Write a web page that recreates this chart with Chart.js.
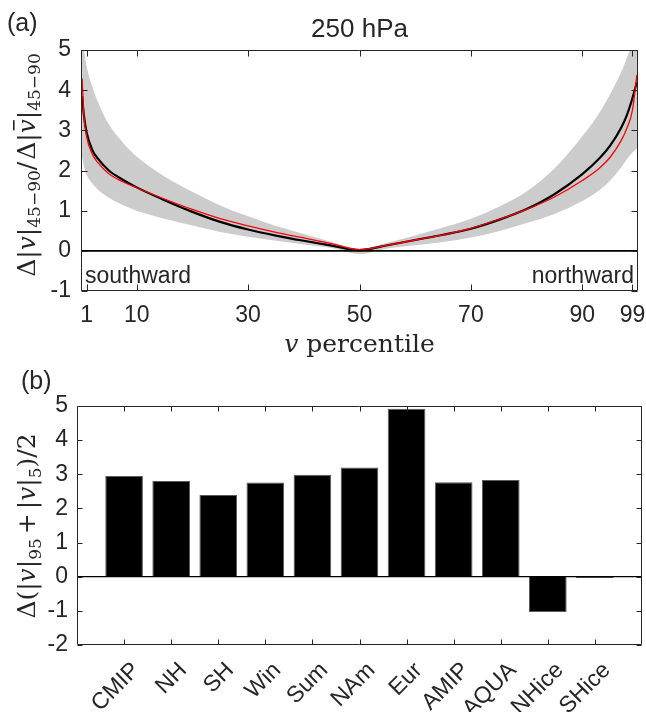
<!DOCTYPE html>
<html><head><meta charset="utf-8">
<script src="https://cdn.jsdelivr.net/npm/chart.js@4.4.1/dist/chart.umd.min.js"></script>
<style>
html,body{margin:0;padding:0;background:#fff;}
#wrap{position:relative;width:646px;height:712px;overflow:hidden;background:#fff;}
#c1{position:absolute;left:0;top:0;}
#c2{position:absolute;left:0;top:360px;}
</style></head><body>
<div id="wrap">
<canvas id="c1" width="646" height="360"></canvas>
<canvas id="c2" width="646" height="352"></canvas>
</div>
<script>
// ---------- data: panel (a) ----------
const percentiles = [0.2,0.5,1,2,3,5,7.5,10,15,20,25,30,35,40,45,50,55,60,65,70,75,80,85,90,93,95,97,98,99,99.8];
const blackLine   = [3.85,3.40,2.95,2.52,2.30,2.00,1.77,1.58,1.26,0.97,0.72,0.53,0.38,0.25,0.13,0.02,0.14,0.27,0.40,0.55,0.77,1.04,1.41,1.91,2.29,2.62,3.07,3.38,3.80,4.20];
const redLine     = [4.29,3.40,2.85,2.42,2.20,1.92,1.72,1.57,1.29,1.03,0.80,0.62,0.46,0.32,0.18,0.03,0.14,0.27,0.40,0.56,0.78,1.03,1.34,1.75,2.05,2.33,2.75,3.05,3.50,4.38];
const bandUpper   = [5.50,5.05,4.60,4.10,3.72,3.15,2.70,2.35,1.85,1.47,1.13,0.86,0.62,0.42,0.22,0.05,0.20,0.38,0.58,0.80,1.10,1.48,2.05,2.85,3.42,3.90,4.45,4.80,5.20,5.60];
const bandLower   = [2.35,2.12,1.90,1.68,1.53,1.32,1.14,1.00,0.80,0.63,0.47,0.35,0.25,0.16,0.07,-0.08,0.06,0.14,0.22,0.33,0.49,0.69,0.92,1.24,1.50,1.75,2.08,2.28,2.45,2.55];
const xTickValues = [1,10,30,50,70,90,99];
const yTickValuesA = [-1,0,1,2,3,4,5];

// ---------- data: panel (b) ----------
const categories = ['CMIP','NH','SH','Win','Sum','NAm','Eur','AMIP','AQUA','NHice','SHice'];
const barValues  = [2.95,2.80,2.39,2.76,2.99,3.20,4.92,2.77,2.83,-1.03,-0.04];
const yTickValuesB = [-2,-1,0,1,2,3,4,5];

const SANS = "'Liberation Sans', Arial, Helvetica, sans-serif";
const SERIF = "'DejaVu Serif', 'Liberation Serif', serif";
const TXT = '#262626';

function drawRich(ctx, segs, x, y, rot) {
  ctx.save();
  ctx.translate(x, y);
  ctx.rotate(rot);
  ctx.textAlign = 'left';
  ctx.textBaseline = 'alphabetic';
  ctx.fillStyle = TXT;
  let total = 0;
  segs.forEach(s => { ctx.font = s.f; s.w = ctx.measureText(s.t).width + (s.sp || 0) + (s.pre || 0); total += s.w; });
  let cx = -total / 2;
  segs.forEach(s => {
    ctx.font = s.f;
    ctx.fillText(s.t, cx + (s.pre || 0), s.dy || 0);
    if (s.bar) {
      ctx.fillRect(cx + 3, -s.bar, s.w - 4, 1.6);
    }
    cx += s.w;
  });
  ctx.restore();
}

function drawFrame(ctx, a, xTicks, yTicks, xs, ys, tl) {
  ctx.save();
  ctx.strokeStyle = '#262626';
  ctx.lineWidth = 1;
  const L = Math.round(a.left) + 0.5, R = Math.round(a.right) - 0.5;
  const T = Math.round(a.top) + 0.5, B = Math.round(a.bottom) - 0.5;
  ctx.beginPath();
  ctx.rect(L, T, R - L, B - T);
  xTicks.forEach(v => {
    const px = Math.round(xs.getPixelForValue(v)) + 0.5;
    ctx.moveTo(px, B); ctx.lineTo(px, B - tl);
    ctx.moveTo(px, T); ctx.lineTo(px, T + tl);
  });
  yTicks.forEach(v => {
    const py = Math.round(ys.getPixelForValue(v)) + 0.5;
    ctx.moveTo(L, py); ctx.lineTo(L + tl, py);
    ctx.moveTo(R, py); ctx.lineTo(R - tl, py);
  });
  ctx.stroke();
  ctx.restore();
}

function zeroLine(ctx, a, ys, w) {
  ctx.save();
  ctx.strokeStyle = '#000';
  ctx.lineWidth = w;
  const py = ys.getPixelForValue(0);
  ctx.beginPath(); ctx.moveTo(a.left, py); ctx.lineTo(a.right, py); ctx.stroke();
  ctx.restore();
}

const decoA = {
  id: 'decoA',
  afterDatasetsDraw(chart) {
    const {ctx, chartArea: a, scales: {y}} = chart;
    zeroLine(ctx, a, y, 1.6);
  },
  afterDraw(chart) {
    const {ctx, chartArea: a, scales: {x, y}} = chart;
    drawFrame(ctx, a, xTickValues, yTickValuesA, x, y, 6);
    ctx.save();
    ctx.fillStyle = TXT;
    ctx.font = '25px ' + SANS;
    ctx.textAlign = 'left'; ctx.textBaseline = 'alphabetic';
    ctx.fillText('(a)', 7, 31);
    ctx.font = '26px ' + SANS;
    ctx.textAlign = 'center';
    ctx.fillText('250 hPa', (a.left + a.right) / 2, 37);
    ctx.font = '23px ' + SANS;
    ctx.textAlign = 'left';
    ctx.fillText('southward', a.left + 4, 283);
    ctx.textAlign = 'right';
    ctx.fillText('northward', a.right - 4, 283);
    ctx.restore();
    const M = '25px ' + SERIF, MI = 'italic 25px ' + SERIF, S = '17px ' + SERIF;
    drawRich(ctx, [{t: 'v', f: MI, sp: 8}, {t: 'percentile', f: M}], (a.left + a.right) / 2, 352, 0);
    drawRich(ctx, [
      {t: 'Δ', f: M}, {t: '|', f: M}, {t: 'v', f: MI}, {t: '|', f: M},
      {t: '45−90', f: S, dy: 5}, {t: '/', f: M, sp: 2},
      {t: 'Δ', f: M}, {t: '|', f: M}, {t: 'v', f: MI, bar: 22}, {t: '|', f: M},
      {t: '45−90', f: S, dy: 5}
    ], 35, 165, -Math.PI / 2);
  }
};

const decoB = {
  id: 'decoB',
  afterDatasetsDraw(chart) {
    const {ctx, chartArea: a, scales: {y}} = chart;
    zeroLine(ctx, a, y, 1.2);
  },
  afterDraw(chart) {
    const {ctx, chartArea: a, scales: {x, y}} = chart;
    const idx = categories.map((c, i) => i + 1);
    drawFrame(ctx, a, idx, yTickValuesB, x, y, 5);
    ctx.save();
    ctx.fillStyle = TXT;
    ctx.font = '25px ' + SANS;
    ctx.textAlign = 'left'; ctx.textBaseline = 'alphabetic';
    ctx.fillText('(b)', 21, 29);
    ctx.restore();
    const M = '25px ' + SERIF, MI = 'italic 25px ' + SERIF, S = '17px ' + SERIF;
    drawRich(ctx, [
      {t: 'Δ', f: M}, {t: '(', f: M}, {t: '|', f: M}, {t: 'v', f: MI}, {t: '|', f: M},
      {t: '95', f: S, dy: 6}, {t: '+', f: M, pre: 4, sp: 4}, {t: '|', f: M}, {t: 'v', f: MI}, {t: '|', f: M},
      {t: '5', f: S, dy: 6}, {t: ')', f: M}, {t: '/', f: M}, {t: '2', f: M}
    ], 35, 166, -Math.PI / 2);
  }
};

// ---------- chart (a) ----------
const pts = arr => percentiles.map((p, i) => ({x: p, y: arr[i]}));
new Chart(document.getElementById('c1'), {
  type: 'line',
  data: {
    datasets: [
      {label: 'red', data: pts(redLine), borderColor: '#ff0000', borderWidth: 1.3, pointRadius: 0, fill: false, cubicInterpolationMode: 'monotone'},
      {label: 'black', data: pts(blackLine), borderColor: '#000000', borderWidth: 2.2, pointRadius: 0, fill: false, cubicInterpolationMode: 'monotone'},
      {label: 'upper', data: pts(bandUpper), borderWidth: 0, borderColor: 'rgba(0,0,0,0)', backgroundColor: '#cccccc', pointRadius: 0, fill: '+1', cubicInterpolationMode: 'monotone'},
      {label: 'lower', data: pts(bandLower), borderWidth: 0, borderColor: 'rgba(0,0,0,0)', pointRadius: 0, fill: false, cubicInterpolationMode: 'monotone'}
    ]
  },
  options: {
    responsive: false,
    animation: false,
    devicePixelRatio: 1,
    layout: {padding: {left: 0, right: 8, top: 50, bottom: 0}},
    plugins: {legend: {display: false}, tooltip: {enabled: false}, title: {display: false}},
    scales: {
      x: {
        type: 'linear', min: 0, max: 100,
        grid: {display: false, drawTicks: false},
        border: {display: false},
        afterBuildTicks: s => { s.ticks = xTickValues.map(v => ({value: v})); },
        afterFit: s => { s.height = 69; s.paddingLeft = 0; s.paddingRight = 0; },
        ticks: {font: {family: SANS, size: 23}, color: TXT, padding: 11, autoSkip: false, maxRotation: 0, callback: v => String(v)}
      },
      y: {
        type: 'linear', min: -1, max: 5,
        grid: {display: false, drawTicks: false},
        border: {display: false},
        afterBuildTicks: s => { s.ticks = yTickValuesA.map(v => ({value: v})); },
        afterFit: s => { s.width = 81; s.paddingTop = 0; s.paddingBottom = 0; },
        ticks: {font: {family: SANS, size: 23}, color: TXT, padding: 10, callback: v => String(v)}
      }
    }
  },
  plugins: [decoA]
});

// ---------- chart (b) ----------
new Chart(document.getElementById('c2'), {
  type: 'bar',
  data: {
    labels: ['', ...categories, ''],
    datasets: [{
      data: [null, ...barValues, null],
      backgroundColor: '#000000',
      borderColor: '#5a5a5a',
      borderWidth: 1,
      barPercentage: 0.8,
      categoryPercentage: 1.0
    }]
  },
  options: {
    responsive: false,
    animation: false,
    devicePixelRatio: 1,
    layout: {padding: {left: 0, right: 4, top: 46, bottom: 0}},
    plugins: {legend: {display: false}, tooltip: {enabled: false}},
    scales: {
      x: {
        type: 'category', offset: false,
        grid: {display: false, drawTicks: false},
        border: {display: false},
        afterFit: s => { s.height = 67; s.paddingLeft = 0; s.paddingRight = 0; },
        ticks: {font: {family: SANS, size: 23}, color: TXT, padding: 12, autoSkip: false, minRotation: 45, maxRotation: 45, labelOffset: 12}
      },
      y: {
        type: 'linear', min: -2, max: 5,
        grid: {display: false, drawTicks: false},
        border: {display: false},
        afterBuildTicks: s => { s.ticks = yTickValuesB.map(v => ({value: v})); },
        afterFit: s => { s.width = 77; s.paddingTop = 0; s.paddingBottom = 0; },
        ticks: {font: {family: SANS, size: 23}, color: TXT, padding: 9, callback: v => String(v)}
      }
    }
  },
  plugins: [decoB]
});
</script>
</body></html>
